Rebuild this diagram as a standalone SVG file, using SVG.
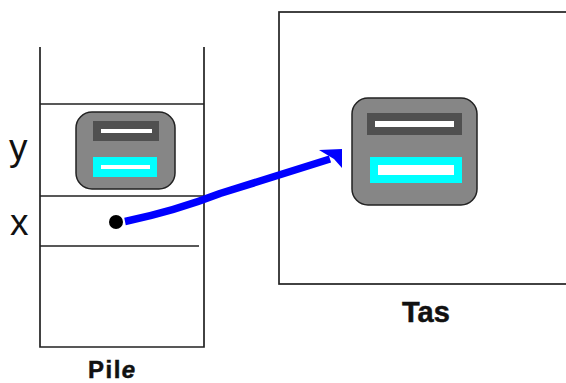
<svg xmlns="http://www.w3.org/2000/svg" width="566" height="383" viewBox="0 0 566 383">
<style>
.l{stroke:#222;stroke-width:1.7;fill:none}
.c{fill:#868686;stroke:#222;stroke-width:1.5}
.d{fill:#505050}
.k{fill:#00ffff}
.w{fill:#fff}
.t{font-family:"Liberation Sans",Arial,sans-serif;fill:#111}
.b{font-weight:bold;stroke:#111;stroke-width:.5}
.s{font-size:37px}
</style>
<rect width="566" height="383" fill="#fff"/>
<g id="pile">
<path class="l" d="M40 47V347H204V47"/>
<path class="l" d="M40 104H204M40 196H204M40 246H199"/>
<text class="t b" x="88" y="377.500" font-size="24" letter-spacing="1.500">Pil<tspan font-style="italic">e</tspan></text>
</g>
<g id="var-y"><text class="t s" x="9" y="160">y</text></g>
<g id="var-x"><text class="t s" x="10" y="235">x</text></g>
<g id="tas">
<rect class="l" x="279" y="12" width="288" height="272"/>
<text class="t b" x="402" y="322" font-size="29">Tas</text>
</g>
<g id="objet-pile">
<rect class="c" x="76" y="112" width="99" height="77" rx="16"/>
<rect class="d" x="93" y="121" width="66" height="20"/>
<rect class="w" x="101" y="129" width="51" height="4"/>
<rect class="k" x="93" y="157" width="64" height="20"/>
<rect class="w" x="101" y="165" width="49" height="4"/>
</g>
<g id="objet-tas">
<rect class="c" x="352" y="98" width="125" height="107" rx="16"/>
<rect class="d" x="367" y="113" width="95" height="22"/>
<rect class="w" x="375" y="121" width="79" height="6"/>
<rect class="k" x="370" y="157" width="92" height="26"/>
<rect class="w" x="378" y="165" width="76" height="10"/>
</g>
<g id="connecteurs">
<circle cx="116" cy="222" r="7" fill="#000"/>
<path d="M125 221.500Q175 211 220 193.500L330 159" stroke="#0000ff" stroke-width="7.500" fill="none"/>
<polygon points="319,150 342,149 342,168 334,159" fill="#0000ff"/>
</g>
</svg>
